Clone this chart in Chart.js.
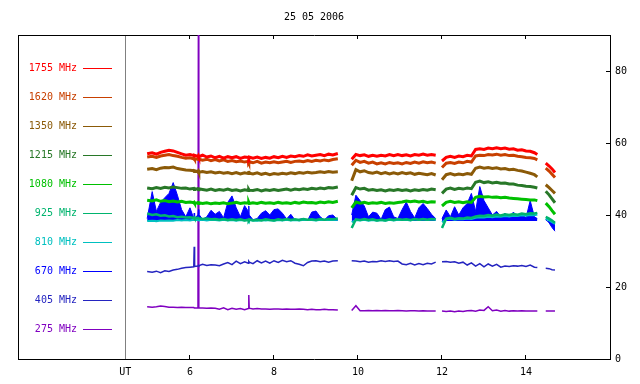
<!DOCTYPE html>
<html>
<head>
<meta charset="utf-8">
<script src="https://cdn.jsdelivr.net/npm/chart.js@4.4.0/dist/chart.umd.min.js"></script>
<style>
  html, body { margin: 0; padding: 0; background: #fff; }
</style>
</head>
<body>
<canvas id="chartRadio" width="640" height="384"></canvas>
<script>
const titleText = '25 05 2006';

// horas UT (null separa os trechos)
const times = [
  4.98,5.1,5.2,5.3,5.4,5.5,5.6,5.7,5.8,5.9,6.0,6.09,6.1,6.11,6.19,6.2,6.21,6.3,6.4,6.5,
  6.6,6.7,6.8,6.9,7.0,7.1,7.2,7.3,7.39,7.4,7.41,7.5,7.6,7.7,7.8,7.9,8.0,8.1,8.2,8.3,
  8.4,8.5,8.6,8.7,8.8,8.9,9.0,9.1,9.2,9.3,9.4,9.52,
  9.7,
  9.85,9.95,10.05,10.15,10.25,10.35,10.45,10.55,10.65,10.75,10.85,10.95,11.05,11.15,11.25,11.35,11.45,11.55,11.65,11.75,11.85,
  11.92,
  12.0,12.1,12.2,12.3,12.4,12.5,12.6,12.7,12.8,12.9,13.0,13.1,13.2,13.3,13.4,13.5,13.6,13.7,13.8,13.9,14.0,14.1,14.2,14.27,
  14.38,
  14.47,14.55,14.62,14.69
];

const freqLabels = ['1755 MHz','1620 MHz','1350 MHz','1215 MHz','1080 MHz','925 MHz','810 MHz','670 MHz','405 MHz','275 MHz'];

const f1755 = [
  57.0,57.3,56.9,57.4,57.7,58.0,57.8,57.4,57.0,56.6,56.8,56.5,56.4,56.6,56.3,56.5,56.2,56.6,56.1,56.4,
  55.9,56.3,55.8,56.2,55.9,56.2,55.7,56.1,56.0,55.8,56.1,55.8,56.1,55.7,56.0,55.8,56.2,55.9,56.3,56.0,
  56.4,56.2,56.5,56.3,56.7,56.4,56.6,56.8,56.5,56.9,56.7,57.1,
  null,
  55.5,56.8,56.5,56.7,56.3,56.6,56.3,56.6,56.4,56.8,56.5,56.8,56.5,56.7,56.4,56.8,56.6,56.9,56.6,56.8,56.6,
  null,
  55.0,56.0,56.3,56.0,56.4,56.2,56.6,56.4,58.2,58.4,58.2,58.6,58.4,58.7,58.4,58.6,58.3,58.4,58.0,58.1,57.8,57.7,57.3,56.8,
  null,
  54.4,53.6,52.8,51.8
];
const f1620 = [
  56.1,56.3,56.0,56.4,56.6,56.8,56.5,56.3,56.0,55.8,55.9,55.6,55.7,55.5,55.6,55.4,55.5,55.2,55.5,55.1,
  55.4,55.0,55.3,54.9,55.1,54.8,55.0,54.7,54.9,54.6,54.8,54.5,54.9,54.4,54.7,54.5,54.8,54.5,54.7,54.9,
  54.6,54.9,55.0,54.8,55.1,54.9,55.2,55.0,55.3,55.1,55.4,55.6,
  null,
  53.8,55.2,54.6,54.9,54.4,54.7,54.2,54.5,54.2,54.6,54.3,54.5,54.2,54.6,54.3,54.7,54.4,54.8,54.5,54.7,54.4,
  null,
  53.2,54.4,54.6,54.3,54.7,54.5,54.9,54.7,56.4,56.6,56.5,56.8,56.7,56.9,56.6,56.8,56.5,56.6,56.3,56.2,56.0,55.9,55.7,55.3,
  null,
  53.0,52.2,51.3,50.4
];
const f1350 = [
  52.7,52.9,52.6,53.0,53.2,53.1,53.3,52.9,52.7,52.5,52.4,52.3,52.1,52.3,52.0,52.2,51.9,52.1,51.8,52.0,
  51.7,51.9,51.6,51.8,51.5,51.8,51.4,51.7,51.5,52.2,51.6,51.4,51.7,51.3,51.6,51.2,51.5,51.3,51.6,51.4,
  51.7,51.5,51.8,51.6,51.9,51.7,51.8,52.0,51.8,52.1,51.9,52.0,
  null,
  49.5,52.6,52.0,52.3,51.8,51.6,51.9,51.5,51.8,51.4,51.7,51.4,51.8,51.5,51.7,51.3,51.6,51.4,51.2,51.5,51.1,
  null,
  49.8,51.2,51.5,51.1,51.4,51.2,51.5,51.3,53.0,53.3,53.0,53.2,52.9,53.1,52.8,52.9,52.6,52.7,52.4,52.2,51.9,51.6,51.2,50.6,
  null,
  48.4,47.6,46.8,46.0
];
const f1215 = [
  47.5,47.3,47.6,47.4,47.7,47.5,47.8,47.6,47.4,47.5,47.2,47.4,47.1,47.3,47.2,47.0,47.3,47.1,46.9,47.2,
  46.8,47.1,46.9,47.2,46.8,47.0,46.7,47.0,46.8,47.1,46.9,46.8,47.1,46.7,47.0,46.8,47.1,46.8,47.0,47.2,
  46.9,47.2,47.0,47.3,47.1,47.4,47.2,47.5,47.3,47.6,47.5,47.8,
  null,
  45.5,47.6,47.2,47.4,46.9,47.1,46.8,47.0,46.7,47.0,46.8,47.1,46.8,47.0,46.7,47.0,46.8,47.1,46.9,47.2,47.0,
  null,
  46.0,47.2,47.5,47.1,47.4,47.2,47.5,47.3,49.1,49.4,49.0,49.2,48.9,49.1,48.8,48.9,48.6,48.6,48.3,48.2,48.0,47.9,47.7,47.5,
  null,
  46.6,45.6,44.5,43.4
];
const f1080 = [
  44.1,43.9,44.2,43.8,44.0,43.7,43.9,43.6,43.8,43.5,43.6,43.4,43.5,43.3,43.4,43.2,43.4,43.2,43.4,43.1,
  43.3,43.2,43.4,43.1,43.3,43.5,43.2,43.4,43.3,43.5,43.2,43.4,43.2,43.5,43.3,43.4,43.2,43.5,43.3,43.4,
  43.2,43.5,43.3,43.6,43.4,43.5,43.3,43.6,43.4,43.7,43.5,43.8,
  null,
  42.0,43.6,43.3,43.5,43.2,43.4,43.3,43.5,43.2,43.4,43.3,43.5,43.6,43.9,43.7,43.9,43.6,43.8,43.5,43.7,43.6,
  null,
  42.5,43.5,43.8,43.5,43.7,43.4,43.7,43.5,44.9,45.2,45.0,45.1,44.9,45.0,44.8,44.9,44.7,44.6,44.5,44.4,44.3,44.2,44.2,44.0,
  null,
  43.3,42.3,41.2,40.2
];
const f925 = [
  40.4,40.0,40.2,39.8,39.9,39.6,39.7,39.4,39.5,39.3,39.4,39.2,39.3,39.1,39.2,39.0,39.1,38.9,39.0,38.8,
  38.9,38.7,38.9,38.6,38.8,38.6,38.8,38.5,38.7,38.6,38.8,38.5,38.7,38.5,38.8,38.6,38.5,38.8,38.6,38.9,
  38.6,38.8,38.6,38.9,38.7,38.8,38.6,38.9,38.7,38.9,38.8,39.0,
  null,
  36.4,38.8,38.6,38.9,38.6,38.8,38.5,38.7,38.5,38.8,38.6,38.9,38.7,38.8,38.6,38.9,38.7,38.9,38.7,38.9,38.8,
  null,
  36.4,39.0,39.2,38.9,39.1,39.0,39.3,39.2,39.6,39.8,39.7,40.0,39.8,40.1,39.9,40.2,40.0,40.3,40.1,40.4,40.2,40.5,40.4,40.6,
  null,
  39.5,39.0,38.5,37.8
];
const f810 = [
  38.3,38.4,38.3,38.5,38.4,38.5,38.4,38.6,38.5,38.6,38.5,38.7,38.6,38.7,38.6,38.7,38.6,38.7,38.5,38.7,
  38.6,38.5,38.7,38.5,38.6,38.4,38.6,38.5,38.6,38.4,38.6,38.5,38.4,38.6,38.5,38.6,38.4,38.6,38.5,38.7,
  38.5,38.6,38.5,38.7,38.6,38.6,38.5,38.7,38.6,38.7,38.6,38.7,
  null,
  38.0,38.6,38.5,38.7,38.4,38.6,38.4,38.6,38.4,38.7,38.5,38.7,38.6,38.7,38.5,38.8,38.6,38.8,38.6,38.8,38.7,
  null,
  38.0,38.8,39.0,38.7,38.9,38.8,39.0,38.9,39.2,39.4,39.3,39.5,39.4,39.6,39.5,39.7,39.6,39.8,39.7,39.9,39.8,40.0,39.9,40.1,
  null,
  39.0,38.5,38.0,37.5
];
const f670 = [
  39.0,46.5,41.0,43.5,44.8,46.0,49.0,45.5,41.5,39.5,42.0,39.0,40.5,39.2,40.0,41.5,40.2,38.8,39.5,41.3,
  40.2,41.0,39.2,43.5,45.3,42.0,39.5,42.6,41.0,42.5,40.0,38.7,39.0,40.5,41.2,40.0,41.5,41.7,40.5,38.9,
  40.2,38.6,38.8,39.0,38.5,40.8,41.1,39.5,38.6,39.8,40.0,38.7,
  null,
  40.0,45.5,44.0,42.5,39.5,40.8,40.5,38.8,41.5,42.2,39.5,39.0,41.5,43.6,41.0,39.2,42.0,43.2,41.8,40.2,39.0,
  null,
  39.0,41.4,39.5,42.3,40.0,42.0,43.2,46.0,41.0,47.9,44.0,42.0,40.0,41.0,39.5,40.5,39.3,40.8,39.5,40.2,39.2,44.0,39.5,39.0,
  null,
  38.8,37.8,36.5,35.5
];
const f405 = [
  24.3,24.1,24.4,24.0,24.5,24.3,24.7,24.9,25.2,25.4,25.5,25.6,31.2,25.7,25.8,26.0,25.9,26.3,26.0,26.2,
  26.1,25.9,26.4,26.8,26.2,27.2,26.5,27.0,26.6,27.1,26.9,26.5,27.3,26.7,27.2,26.6,27.3,26.8,27.4,27.0,
  27.3,26.6,26.3,25.9,26.8,27.2,27.3,27.0,27.2,26.9,27.2,27.3,
  null,
  27.3,27.2,27.0,27.2,26.9,27.1,27.0,27.3,27.1,27.3,27.1,27.2,26.4,26.2,26.6,26.1,26.5,26.2,26.6,26.4,26.9,
  null,
  27.0,27.1,26.9,27.0,26.6,26.9,26.1,26.7,25.8,26.5,25.6,26.4,25.8,26.3,25.5,25.8,25.7,25.9,25.8,26.0,25.7,26.1,25.5,25.4,
  null,
  25.2,25.1,24.8,24.7
];
const f275 = [
  14.5,14.4,14.5,14.7,14.6,14.4,14.4,14.3,14.4,14.3,14.3,14.3,14.2,14.2,14.2,95,14.2,14.2,14.1,14.2,
  14.1,13.8,14.2,13.7,14.1,13.8,14.0,13.7,14.0,17.8,14.1,13.9,14.0,13.9,13.9,13.8,13.9,13.9,13.8,13.9,
  13.8,13.8,13.9,13.8,13.7,13.8,13.7,13.7,13.8,13.7,13.7,13.6,
  null,
  13.5,14.8,13.4,13.4,13.5,13.4,13.5,13.4,13.5,13.4,13.4,13.5,13.4,13.3,13.4,13.4,13.3,13.4,13.3,13.3,13.3,
  null,
  13.3,13.2,13.3,13.1,13.3,13.2,13.4,13.5,13.3,13.6,13.5,14.5,13.4,13.6,13.3,13.5,13.3,13.4,13.3,13.4,13.3,13.3,13.3,13.3,
  null,
  13.3,13.3,13.3,13.3
];

const seriesValues = [f1755, f1620, f1350, f1215, f1080, f925, f810, f670, f405, f275];

// eixos
const xMin = 1.905, xMax = 16.0;
const utTick = 4.46;
const bottomTicks = [utTick, 6, 8, 10, 12, 14];
const bottomTickLabels = ['UT', '6', '8', '10', '12', '14'];
const topTicks = [6, 8, 10, 12, 14];
const yTicks = [0, 20, 40, 60, 80];

// estilos
const cores = ['#ff0000', '#c84000', '#8b5a08', '#287828', '#00c000', '#00b46e', '#00c0c0', '#0000ff', '#2424c0', '#8000c0'];
const larguras = [3, 3, 3, 3, 3, 2.5, 2, 1, 1.5, 1.5];
const FONTE = '"DejaVu Sans Mono", monospace';

const datasets = seriesValues.map((vals, i) => ({
    label: freqLabels[i],
    data: vals.map((v, k) => ({ x: times[k], y: v })),
    borderColor: cores[i],
    backgroundColor: cores[i],
    borderWidth: larguras[i],
    pointRadius: 0,
    tension: 0,
    spanGaps: false,
    fill: i === 7 ? { value: 38.3 } : false
}));

// legenda lateral, como no grafico original
const legendaLateral = {
    id: 'legendaLateral',
    afterDraw(chart) {
        const c = chart.ctx;
        c.save();
        c.font = '10px ' + FONTE;
        c.textAlign = 'right';
        c.textBaseline = 'middle';
        chart.data.datasets.forEach((ds, i) => {
            const y = Math.round(67.5 + i * 29.1);
            c.fillStyle = cores[i];
            c.fillText(ds.label, 77, y);
            c.fillRect(83, y, 29, 1);
        });
        c.restore();
    }
};

const tickFont = { family: FONTE, size: 10 };

new Chart(document.getElementById('chartRadio'), {
    type: 'line',
    data: { datasets: datasets },
    options: {
        responsive: false,
        animation: false,
        layout: { padding: { left: 18, right: 0, top: 0, bottom: 0 } },
        plugins: {
            legend: { display: false },
            tooltip: { enabled: false },
            title: {
                display: true,
                text: titleText,
                fullSize: false,
                color: '#000',
                font: { family: FONTE, size: 10, weight: 'normal' },
                padding: { top: 11, bottom: 12 }
            }
        },
        scales: {
            x: {
                type: 'linear',
                position: 'bottom',
                min: xMin,
                max: xMax,
                afterBuildTicks: s => { s.ticks = bottomTicks.map(v => ({ value: v })); },
                afterFit: s => { s.height = 25; },
                ticks: {
                    autoSkip: false,
                    maxRotation: 0,
                    padding: 11,
                    color: '#000',
                    font: tickFont,
                    callback: (v, i) => bottomTickLabels[i]
                },
                grid: {
                    drawOnChartArea: true,
                    tickLength: -4,
                    lineWidth: 1,
                    color: c => (c.tick && c.tick.value === utTick) ? '#808080' : 'rgba(0,0,0,0)',
                    tickColor: c => (c.tick && c.tick.value === utTick) ? 'rgba(0,0,0,0)' : '#000'
                },
                border: { color: '#000', width: 1 }
            },
            xTop: {
                type: 'linear',
                position: 'top',
                min: xMin,
                max: xMax,
                afterBuildTicks: s => { s.ticks = topTicks.map(v => ({ value: v })); },
                afterFit: s => { s.height = 0; },
                ticks: { display: false },
                grid: { drawOnChartArea: false, tickLength: -4, color: '#000' },
                border: { color: '#000', width: 1 }
            },
            y: {
                position: 'right',
                min: 0,
                max: 90,
                afterBuildTicks: s => { s.ticks = yTicks.map(v => ({ value: v })); },
                afterFit: s => { s.width = 30; },
                ticks: { padding: 9, color: '#000', font: tickFont },
                grid: { drawOnChartArea: false, tickLength: -4, color: '#000' },
                border: { color: '#000', width: 1 }
            },
            yLeft: {
                position: 'left',
                min: 0,
                max: 90,
                afterFit: s => { s.width = 0; },
                ticks: { display: false },
                grid: { drawOnChartArea: false, drawTicks: false },
                border: { color: '#000', width: 1 }
            }
        }
    },
    plugins: [legendaLateral]
});
</script>
</body>
</html>
